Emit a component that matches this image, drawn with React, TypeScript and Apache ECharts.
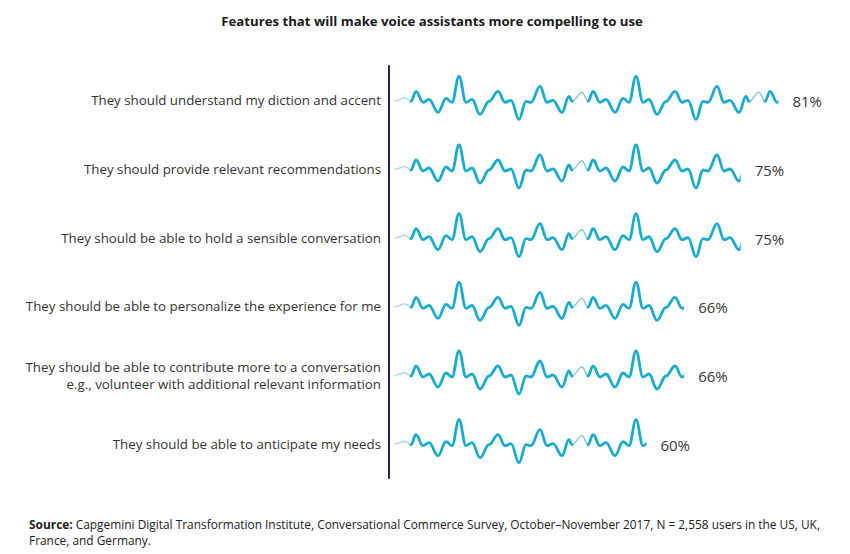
import React, { useEffect, useRef } from 'react';
import * as echarts from 'echarts';

const categories = [
  'They should understand my diction and accent',
  'They should provide relevant recommendations',
  'They should be able to hold a sensible conversation',
  'They should be able to personalize the experience for me',
  'They should be able to contribute more to a conversation\ne.g., volunteer with additional relevant information',
  'They should be able to anticipate my needs',
];
const values = [81, 75, 75, 66, 66, 60];

const TITLE = 'Features that will make voice assistants more compelling to use';
const SOURCE_BOLD = 'Source:';
const SOURCE_LINE1 =
  ' Capgemini Digital Transformation Institute, Conversational Commerce Survey, October–November 2017, N = 2,558 users in the US, UK,';
const SOURCE_LINE2 = 'France, and Germany.';

// Glyph of one period of the sound-wave "bar" (shape only, not data)
const WAVE_X = [0, 10, 16, 21, 28, 34, 43, 51, 57, 64, 71, 77, 85, 94, 103, 110, 116, 124, 131, 136, 145, 152, 158, 167, 174, 177];
const WAVE_Y = [1, -8, 1, -9, 2, -1, 12, -2, 2, -24, 2, -1, 14, 1, -9, 2, 0, 19, 1, 2, -14, 2, 0, 12, -4, 1];
const THIN_END = 2;
const PERIOD = 177;
const K = 0.4;
const X_MIN = 20;
const X_MAX = 90;

const FONT = '"Open Sans", "Noto Sans", sans-serif';

function segPath(ox: number, cy: number, from: number, to: number, first: boolean) {
  let d = '';
  const py = (i: number) => cy + WAVE_Y[i] * (first && i < THIN_END ? 0.3 : 1);
  for (let i = from; i <= to; i++) {
    const x = ox + WAVE_X[i];
    const y = py(i);
    if (i === from) {
      d += `M${x} ${y}`;
    } else {
      const px = ox + WAVE_X[i - 1];
      const pyy = py(i - 1);
      const dx = (x - px) * K;
      d += ` C${px + dx} ${pyy} ${x - dx} ${y} ${x} ${y}`;
    }
  }
  return d;
}

export default function App() {
  const ref = useRef<HTMLDivElement>(null);
  useEffect(() => {
    if (!ref.current) return;
    const chart = echarts.init(ref.current, undefined, { renderer: 'svg' });
    const option: any = {
      animation: false,
      backgroundColor: '#ffffff',
      grid: { left: 395, right: 15, top: 66, bottom: 76, containLabel: false },
      xAxis: { type: 'value', min: X_MIN, max: X_MAX, show: false },
      yAxis: {
        type: 'category',
        data: categories,
        inverse: true,
        offset: 6,
        axisLine: { show: true, lineStyle: { color: '#2e2150', width: 2 } },
        axisTick: { show: false },
        splitLine: { show: false },
        axisLabel: {
          color: '#333333',
          fontSize: 13.3,
          fontFamily: FONT,
          margin: 8,
          lineHeight: 17,
        },
      },
      graphic: [
        {
          type: 'text',
          x: 432,
          y: 21,
          style: {
            text: TITLE,
            fontSize: 13.2,
            fontWeight: 'bold',
            fontFamily: FONT,
            fill: '#1a1a1a',
            align: 'center',
            verticalAlign: 'middle',
          },
        },
        {
          type: 'text',
          x: 29,
          y: 516,
          style: {
            text: `{b|${SOURCE_BOLD}}${SOURCE_LINE1}\n${SOURCE_LINE2}`,
            fontSize: 11.9,
            fontFamily: FONT,
            fill: '#222222',
            lineHeight: 16,
            rich: {
              b: { fontSize: 11.9, fontFamily: FONT, fontWeight: 'bold', fill: '#222222', lineHeight: 16 },
            },
          },
        },
      ],
      series: [
        {
          type: 'custom',
          data: values.map((v, i) => [v, i]),
          encode: { x: 0, y: 1 },
          clip: false,
          renderItem: (params: any, api: any) => {
            const val = api.value(0);
            const idx = api.value(1);
            const start = api.coord([X_MIN, idx]);
            const end = api.coord([val, idx]);
            const x0 = start[0];
            const cy = start[1];
            const len = end[0] - x0;
            const n = Math.ceil(len / PERIOD) + 1;
            const thin: any[] = [];
            const thick: any[] = [];
            for (let k = 0; k < n; k++) {
              const ox = x0 + k * PERIOD;
              thin.push({
                type: 'path',
                shape: { pathData: segPath(ox, cy, 0, THIN_END, k === 0) },
                style: { fill: 'none', stroke: k === 0 ? '#a9d3da' : '#7fc3d0', lineWidth: 1.3, lineCap: 'round', lineJoin: 'round' },
              });
              thick.push({
                type: 'path',
                shape: { pathData: segPath(ox, cy, THIN_END, WAVE_X.length - 1, k === 0) },
                style: { fill: 'none', stroke: '#17abd2', lineWidth: 2.8, lineCap: 'round', lineJoin: 'round' },
              });
            }
            return {
              type: 'group',
              children: [
                {
                  type: 'group',
                  children: [...thin, ...thick],
                  clipPath: { type: 'rect', shape: { x: x0 - 3, y: cy - 40, width: len + 3, height: 80 } },
                },
                {
                  type: 'text',
                  x: end[0] + 14,
                  y: cy + 1,
                  style: {
                    text: val + '%',
                    fontSize: 15,
                    fontFamily: FONT,
                    fill: '#383838',
                    align: 'left',
                    verticalAlign: 'middle',
                  },
                },
              ],
            };
          },
        },
      ],
    };
    chart.setOption(option);
    return () => chart.dispose();
  }, []);
  return (
    <div
      ref={ref}
      style={{ position: 'fixed', left: 0, top: 0, width: 850, height: 554, background: '#fff' }}
    />
  );
}
